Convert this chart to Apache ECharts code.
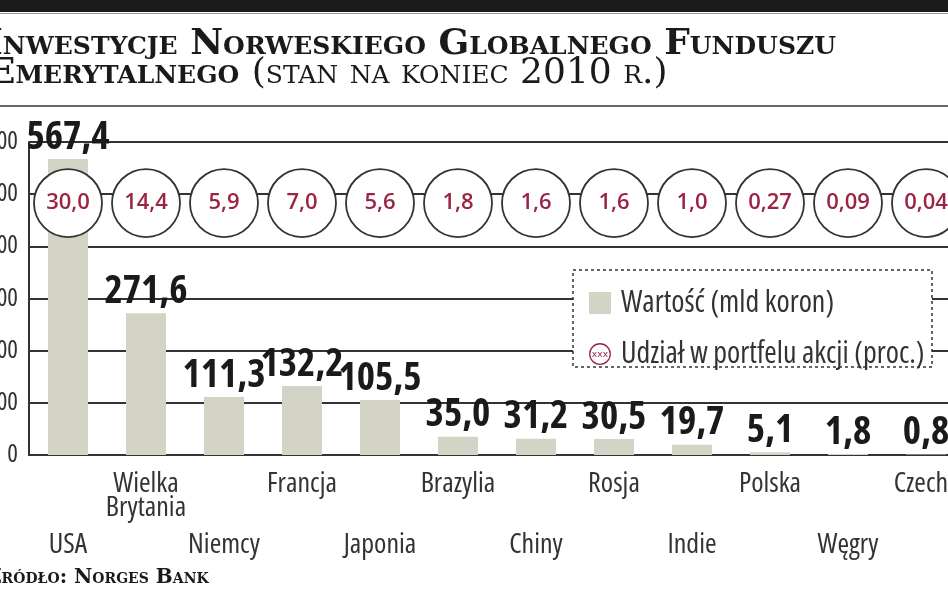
<!DOCTYPE html>
<html lang="pl">
<head>
<meta charset="UTF-8">
<title>Inwestycje Norweskiego Globalnego Funduszu Emerytalnego</title>
<style>
  * { margin: 0; padding: 0; }
  body { background: #fff; }
  #chart { width: 948px; height: 593px; }
</style>
</head>
<body>
<div id="chart"></div>
<script src="https://cdn.jsdelivr.net/npm/echarts@6/dist/echarts.min.js"></script>
<script>
// dane: wartość inwestycji (mld koron) i udział w portfelu akcji (proc.)
var countries = ['USA', 'Wielka\nBrytania', 'Niemcy', 'Francja', 'Japonia', 'Brazylia',
                 'Chiny', 'Rosja', 'Indie', 'Polska', 'Węgry', 'Czechy'];
var values = [567.4, 271.6, 111.3, 132.2, 105.5, 35.0, 31.2, 30.5, 19.7, 5.1, 1.8, 0.8];
var shares = [30.0, 14.4, 5.9, 7.0, 5.6, 1.8, 1.6, 1.6, 1.0, 0.27, 0.09, 0.04];
var yMax = 600;
var yStep = 100;

// Open Sans ma oś szerokości, więc "condensed" w skrócie font działa
var SANS = '"Open Sans", "DejaVu Sans Condensed", sans-serif';
var SERIF = '"DejaVu Serif", serif';
var CRIMSON = '#9b2343';
var TEXT = '#333';
var circleLevel = 483; // wysokość rzędu kółek na osi

function plNum(v, d) {
    return v.toFixed(d).replace('.', ',');
}

function textWidth(text, font) {
    var ctx = document.createElement('canvas').getContext('2d');
    ctx.font = font;
    return ctx.measureText(text).width;
}

var circleIcon = 'image://data:image/svg+xml;utf8,' + encodeURIComponent(
    '<svg xmlns="http://www.w3.org/2000/svg" width="24" height="24">' +
    '<circle cx="12" cy="12" r="11.2" fill="#fff" stroke="' + CRIMSON + '" stroke-width="1.4"/>' +
    '<text x="12" y="15.5" font-size="10" text-anchor="middle" fill="' + CRIMSON + '" font-family="DejaVu Sans">xxx</text>' +
    '</svg>');

var titleFont = 'small-caps bold 36px ' + SERIF;
var subFont = 'small-caps normal 36px ' + SERIF;
var line2a = 'Emerytalnego ';
var line2aW = textWidth(line2a, titleFont);

var labelStyle = {
    fontFamily: SANS,
    fontWeight: 'normal condensed',
    fontSize: 28,
    lineHeight: 24,
    color: TEXT
};

var myChart = echarts.init(document.getElementById('chart'));

var option = {
    animation: false,
    grid: { left: 29, right: -17, top: 142, bottom: 138, outerBoundsMode: 'none', containLabel: false },
    legend: {
        orient: 'vertical',
        left: 584,
        top: 283,
        itemGap: 21,
        itemWidth: 22,
        itemHeight: 22,
        z: 10,
        selectedMode: false,
        textStyle: {
            fontFamily: SANS, fontWeight: 'normal condensed', fontSize: 30, lineHeight: 26,
            color: TEXT, padding: [0, 0, 0, 5]
        },
        data: [
            { name: 'Wartość (mld koron)', icon: 'rect' },
            { name: 'Udział w portfelu akcji (proc.)', icon: circleIcon }
        ]
    },
    xAxis: [{
        type: 'category',
        position: 'bottom',
        data: countries,
        axisLine: { lineStyle: { color: '#333', width: 2 } },
        axisTick: { show: false },
        axisLabel: Object.assign({
            interval: function (i) { return i % 2 === 1; },
            margin: 17
        }, labelStyle)
    }, {
        type: 'category',
        position: 'bottom',
        data: countries,
        axisLine: { show: false },
        axisTick: { show: false },
        axisLabel: Object.assign({
            interval: function (i) { return i % 2 === 0; },
            margin: 78
        }, labelStyle)
    }],
    yAxis: {
        type: 'value',
        min: 0,
        max: yMax,
        interval: yStep,
        axisLine: { show: true, lineStyle: { color: '#333', width: 2 } },
        axisTick: { show: false },
        splitLine: { lineStyle: { color: '#333', width: 2 } },
        axisLabel: { margin: 11, fontFamily: SANS, fontWeight: 'normal condensed', fontSize: 25, color: TEXT }
    },
    series: [{
        name: 'Wartość (mld koron)',
        type: 'bar',
        data: values,
        barWidth: 40,
        itemStyle: { color: '#d3d3c6' },
        label: {
            show: true,
            position: 'top',
            distance: 2,
            fontFamily: SANS,
            fontWeight: 'bold condensed',
            fontSize: 39,
            color: '#1a1a1a',
            formatter: function (p) { return plNum(p.value, 1); }
        }
    }, {
        name: 'Udział w portfelu akcji (proc.)',
        type: 'scatter',
        data: shares.map(function (s, i) { return [i, circleLevel, s]; }),
        symbol: 'circle',
        symbolSize: 68,
        itemStyle: { color: '#fff', borderColor: '#333', borderWidth: 1.8, opacity: 1 },
        label: {
            show: true,
            position: 'inside',
            fontFamily: SANS,
            fontWeight: '600',
            fontSize: 22,
            color: CRIMSON,
            formatter: function (p) {
                var s = p.value[2];
                return plNum(s, s >= 1 ? 1 : 2);
            }
        }
    }],
    graphic: [
        { type: 'rect', shape: { x: 0, y: 0, width: 948, height: 12 }, style: { fill: '#1b1b1b' } },
        { type: 'line', shape: { x1: 0, y1: 13.5, x2: 948, y2: 13.5 }, style: { stroke: '#999', lineWidth: 1 } },
        { type: 'line', shape: { x1: 0, y1: 106, x2: 948, y2: 106 }, style: { stroke: '#666', lineWidth: 2 } },
        {
            type: 'text', x: -14, y: 45,
            style: { text: 'Inwestycje Norweskiego Globalnego Funduszu', font: titleFont, fill: '#1a1a1a', verticalAlign: 'middle' }
        },
        {
            type: 'text', x: -12, y: 74,
            style: { text: line2a, font: titleFont, fill: '#1a1a1a', verticalAlign: 'middle' }
        },
        {
            type: 'text', x: -12 + line2aW, y: 74,
            style: { text: '(stan na koniec 2010 r.)', font: subFont, fill: '#1a1a1a', verticalAlign: 'middle' }
        },
        {
            type: 'rect', z: 5,
            shape: { x: 573, y: 270, width: 359, height: 97 },
            style: { fill: '#fff', stroke: '#333', lineWidth: 1.5, lineDash: [3, 3] }
        },
        {
            type: 'text', x: -13, y: 578,
            style: { text: 'Źródło: Norges Bank', font: 'small-caps bold 20px ' + SERIF, fill: '#1a1a1a', verticalAlign: 'middle' }
        }
    ]
};

myChart.setOption(option);
</script>
</body>
</html>
